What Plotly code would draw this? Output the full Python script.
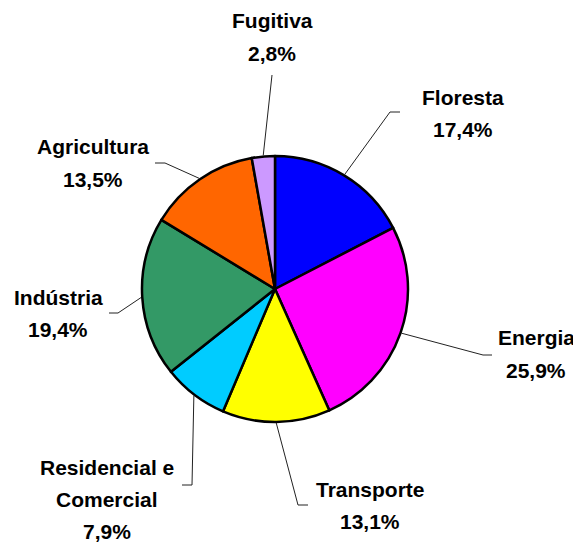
import math
import plotly.graph_objects as go

# ---- data ----
categories = ["Floresta", "Energia", "Transporte", "Residencial e Comercial",
              "Indústria", "Agricultura", "Fugitiva"]
values = [17.4, 25.9, 13.1, 7.9, 19.4, 13.5, 2.8]
colors = ["#0000FF", "#FF00FF", "#FFFF00", "#00CCFF", "#339966", "#FF6600", "#CC99FF"]
display_lines = {"Residencial e Comercial": ["Residencial e", "Comercial"]}

# ---- layout constants (screen pixels) ----
VIEW_W, VIEW_H = 581, 544
PAGE_MARGIN = 8          # default body margin of the html page
W, H = VIEW_W - PAGE_MARGIN, VIEW_H - PAGE_MARGIN
CX, CY, R = 275, 289, 133
# label centre (x, first-line y), leader elbow and end points
label_pos = {
    "Floresta": (463, 97, (390, 112), (400, 112)),
    "Energia": (536, 338, (483, 355), (492, 355)),
    "Transporte": (370, 489, (298, 505), (308, 505)),
    "Residencial e Comercial": (107, 467, (192, 485), (182, 485)),
    "Indústria": (58, 297, (118, 313), (109, 313)),
    "Agricultura": (93, 147, (165, 163), (155, 163)),
    "Fugitiva": (272, 21, (272, 75), (272, 75)),
}
LINE_GAP = 32
FONT = dict(family="Liberation Sans, Arial, sans-serif", size=21, color="#000000",
            weight="bold")


def px(x):
    return (x - PAGE_MARGIN) / W


def py(y):
    return 1 - (y - PAGE_MARGIN) / H


fig = go.Figure(go.Pie(
    labels=categories, values=values, sort=False, direction="clockwise",
    rotation=0, textinfo="none", hoverinfo="label+percent",
    marker=dict(colors=colors, line=dict(color="#000000", width=2.5)),
    domain=dict(x=[px(CX - R), px(CX + R)], y=[py(CY + R), py(CY - R)]),
    showlegend=False,
))

annotations = []
shapes = []
total = sum(values)
cum = 0.0
for cat, val in zip(categories, values):
    mid = (cum + val / 2) / total * 2 * math.pi
    cum += val
    sx = CX + (R + 1) * math.sin(mid)
    sy = CY - (R + 1) * math.cos(mid)
    lx, ly, elbow, end = label_pos[cat]
    shapes.append(dict(
        type="path", xref="paper", yref="paper",
        path=f"M {px(sx)} {py(sy)} L {px(elbow[0])} {py(elbow[1])} L {px(end[0])} {py(end[1])}",
        line=dict(color="#222222", width=1),
    ))
    lines = display_lines.get(cat, [cat]) + [f"{val:.1f}%".replace(".", ",")]
    for i, t in enumerate(lines):
        annotations.append(dict(
            text=t, x=px(lx), y=py(ly + i * LINE_GAP), xref="paper", yref="paper",
            xanchor="center", yanchor="middle", showarrow=False, font=FONT,
        ))

fig.update_layout(
    width=W, height=H, margin=dict(l=0, r=0, t=0, b=0),
    paper_bgcolor="white", plot_bgcolor="white",
    annotations=annotations, shapes=shapes,
)
fig.write_html("out.html")
